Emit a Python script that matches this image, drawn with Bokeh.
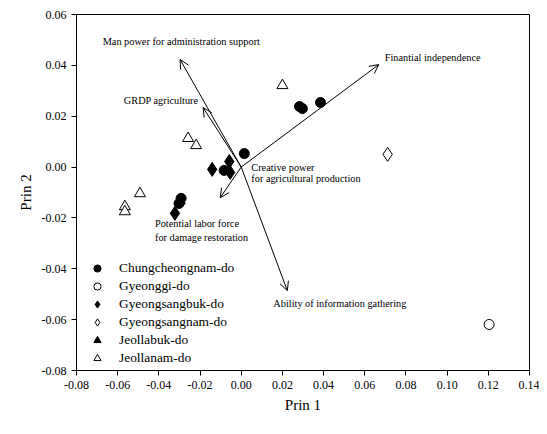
from bokeh.plotting import figure
from bokeh.models import (ColumnDataSource, Arrow, OpenHead, FixedTicker,
                          PrintfTickFormatter, Range1d, Legend, LegendItem)
from bokeh.core.properties import value
from bokeh.embed import file_html
from bokeh.resources import INLINE

FONT = "Liberation Serif"

# ---- data ----
chung_x = [0.0283, 0.0297, 0.0385, 0.0015, -0.0083, -0.0292, -0.0302]
chung_y = [0.0238, 0.0230, 0.0254, 0.0053, -0.0013, -0.0123, -0.0143]
gyeonggi_x = [0.1204]
gyeonggi_y = [-0.0619]
gbuk_x = [-0.0141, -0.0058, -0.0054, -0.0322]
gbuk_y = [-0.0009, 0.0022, -0.0021, -0.0182]
gnam_x = [0.0711]
gnam_y = [0.0050]
jbuk_x = [-0.0298]
jbuk_y = [-0.0133]
jnam_x = [0.0200, -0.0258, -0.0219, -0.0492, -0.0565, -0.0565]
jnam_y = [0.0321, 0.0113, 0.0085, -0.0104, -0.0155, -0.0175]

arrow_x = [-0.0297, -0.0185, 0.0668, -0.0102, 0.0224]
arrow_y = [0.0423, 0.0234, 0.0403, -0.0120, -0.0486]

label_text = ["Man power for administration support", "GRDP agriculture",
              "Finantial independence", "Creative power",
              "for agricultural production", "Potential labor force",
              "for damage restoration", "Ability of information gathering"]
label_x = [-0.0673, -0.0570, 0.0697, 0.0049, 0.0049, -0.0419, -0.0419, 0.0156]
label_y = [0.0494, 0.0262, 0.0430, -0.0001, -0.0045, -0.0222, -0.0277, -0.0537]

x_ticks = [-0.08, -0.06, -0.04, -0.02, 0.0, 0.02, 0.04, 0.06, 0.08, 0.10, 0.12, 0.14]
y_ticks = [-0.08, -0.06, -0.04, -0.02, 0.0, 0.02, 0.04, 0.06]

p = figure(width=539, height=426, output_backend="svg", toolbar_location=None,
           x_range=Range1d(-0.08, 0.14), y_range=Range1d(-0.08, 0.06),
           frame_width=453, frame_height=356,
           min_border_left=76, min_border_top=14, min_border_right=10,
           min_border_bottom=56)
p.grid.visible = False
p.outline_line_color = "black"
p.outline_line_width = 1
p.background_fill_color = "white"
p.border_fill_color = "white"

for ax in (p.xaxis[0], p.yaxis[0]):
    ax.major_label_text_font = FONT
    ax.major_label_text_font_size = "12px"
    ax.axis_label_text_font = FONT
    ax.axis_label_text_font_size = "15px"
    ax.axis_label_text_font_style = "normal"
    ax.minor_tick_line_color = None
    ax.major_tick_out = 5
    ax.major_tick_in = 0
    ax.axis_line_color = "black"
    ax.major_tick_line_color = "black"
    ax.major_label_text_color = "black"
    ax.axis_label_text_color = "black"
    ax.formatter = PrintfTickFormatter(format="%.2f")

p.xaxis[0].ticker = FixedTicker(ticks=x_ticks)
p.yaxis[0].ticker = FixedTicker(ticks=y_ticks)
p.xaxis[0].axis_label = "Prin 1"
p.yaxis[0].axis_label = "Prin 2"
p.yaxis[0].major_label_orientation = "horizontal"

# arrows
asrc = ColumnDataSource(dict(x0=[0.0] * len(arrow_x), y0=[0.0] * len(arrow_y),
                             x1=arrow_x, y1=arrow_y))
p.add_layout(Arrow(end=OpenHead(size=9, line_width=1, line_color="black"),
                   x_start="x0", y_start="y0", x_end="x1", y_end="y1",
                   source=asrc, line_color="black", line_width=1))

p.text(x=label_x, y=label_y, text=label_text, text_font=value(FONT),
       text_font_size="10.3px", text_baseline="middle", text_align="left",
       text_color="black")

r5 = p.scatter(jbuk_x, jbuk_y, marker="triangle", size=11, fill_color="black",
               line_color="black")
r1 = p.scatter(chung_x, chung_y, marker="circle", size=10, fill_color="black",
               line_color="black")
r2 = p.scatter(gyeonggi_x, gyeonggi_y, marker="circle", size=10,
               fill_color="white", line_color="black", line_width=1)
r3 = p.scatter(gbuk_x, gbuk_y, marker="diamond", size=14, fill_color="black",
               line_color="black")
r4 = p.scatter(gnam_x, gnam_y, marker="diamond", size=14, fill_color="white",
               line_color="black", line_width=1)
r6 = p.scatter(jnam_x, jnam_y, marker="triangle", size=11, fill_color="white",
               line_color="black", line_width=1)

legend = Legend(items=[
    LegendItem(label="Chungcheongnam-do", renderers=[r1]),
    LegendItem(label="Gyeonggi-do", renderers=[r2]),
    LegendItem(label="Gyeongsangbuk-do", renderers=[r3]),
    LegendItem(label="Gyeongsangnam-do", renderers=[r4]),
    LegendItem(label="Jeollabuk-do", renderers=[r5]),
    LegendItem(label="Jeollanam-do", renderers=[r6]),
], location=(12, 3))
legend.label_text_font = FONT
legend.label_text_font_size = "13.4px"
legend.label_text_color = "black"
legend.label_height = 18
legend.glyph_height = 18
legend.glyph_width = 18
legend.spacing = 0
legend.padding = 5
legend.margin = 0
legend.label_standoff = 13
legend.border_line_color = None
legend.background_fill_alpha = 0
p.add_layout(legend)

open("out.html", "w").write(file_html(p, INLINE))
